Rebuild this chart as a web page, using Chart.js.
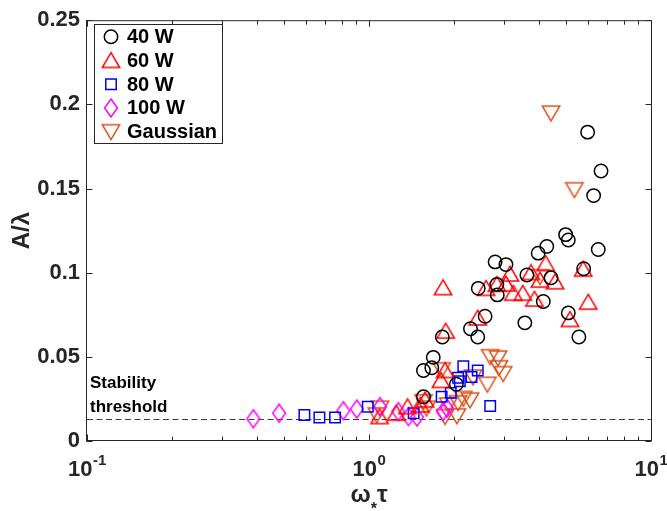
<!DOCTYPE html>
<html>
<head>
<meta charset="utf-8">
<script src="https://cdn.jsdelivr.net/npm/chart.js@4.4.0/dist/chart.umd.min.js"></script>
<style>
  html, body { margin: 0; padding: 0; background: #fff; }
</style>
</head>
<body>
<canvas id="waveChart" width="667" height="511"></canvas>
<script>
// series (x = omega_* tau, y = A / lambda)
const w40X = [5.96, 6.65, 6.26, 6.50, 5.77, 4.98, 5.09, 4.27, 3.98, 3.06, 2.80, 3.63, 4.42, 2.44, 2.84, 4.15, 5.09, 3.57, 5.55, 2.85, 2.58, 2.29, 2.43, 1.82, 1.69, 1.56, 1.67, 2.04, 1.56];
const w40Y = [0.1835, 0.1604, 0.1458, 0.1138, 0.1023, 0.1226, 0.1194, 0.1156, 0.1116, 0.1048, 0.1064, 0.0986, 0.0970, 0.0907, 0.0930, 0.0829, 0.0761, 0.0702, 0.0618, 0.0868, 0.0741, 0.0667, 0.0618, 0.0618, 0.0497, 0.0419, 0.0435, 0.0337, 0.0263];

const w60X = [1.83, 3.16, 2.60, 2.84, 3.06, 3.25, 3.51, 2.43, 1.87, 4.23, 3.75, 4.04, 4.57, 5.75, 3.86, 5.99, 5.16, 1.86, 1.80, 1.58, 1.52, 1.37, 1.25, 1.09];
const w60Y = [0.0911, 0.0992, 0.0907, 0.0931, 0.0933, 0.0878, 0.0878, 0.0731, 0.0653, 0.1054, 0.1001, 0.0956, 0.0946, 0.1021, 0.0843, 0.0825, 0.0722, 0.0419, 0.0360, 0.0244, 0.0214, 0.0204, 0.0165, 0.0145];

const w80X = [2.16, 2.43, 2.07, 2.31, 1.95, 1.81, 2.69, 1.44, 0.99, 0.59, 0.667, 0.758, 2.10];
const w80Y = [0.0444, 0.0419, 0.0376, 0.0380, 0.0286, 0.0263, 0.0208, 0.0165, 0.0204, 0.0155, 0.0139, 0.0139, 0.0355];

const w100X = [0.389, 0.48, 0.811, 0.905, 1.094, 1.27, 1.38, 1.48, 1.89, 1.83];
const w100Y = [0.0132, 0.0165, 0.0180, 0.0190, 0.0204, 0.0175, 0.0145, 0.0142, 0.0195, 0.0175];

const gaussX = [4.42, 5.35, 4.04, 2.69, 2.87, 2.89, 2.99, 2.63, 2.34, 2.16, 2.28, 2.07, 1.91, 1.86, 2.05, 1.81, 1.56, 1.60, 1.094, 1.065];
const gaussY = [0.1948, 0.1493, 0.0976, 0.0501, 0.0493, 0.0435, 0.0400, 0.0337, 0.0380, 0.0253, 0.0243, 0.0227, 0.0214, 0.0145, 0.0149, 0.0423, 0.0233, 0.0195, 0.0195, 0.0155];

const seriesLabels = ["40 W", "60 W", "80 W", "100 W", "Gaussian"];
const stabilityThreshold = 0.0132;

const yTickValues = [0, 0.05, 0.1, 0.15, 0.2, 0.25];
const yTickLabels = ["0", "0.05", "0.1", "0.15", "0.2", "0.25"];
const xDecades = [0.1, 1, 10];
const xDecadeExps = ["-1", "0", "1"];

const seriesColors = ["#000000", "#ff0000", "#0000ff", "#ff00ff", "#d95319"];
const FONT = '"Liberation Sans", Arial, Helvetica, sans-serif';
const AXIS = "#262626";
const MARK_W = 1.5;

function makeMarker(kind, color) {
  const c = document.createElement("canvas");
  c.width = 22;
  c.height = 22;
  const g = c.getContext("2d");
  g.strokeStyle = color;
  g.lineWidth = MARK_W;
  g.lineJoin = "miter";
  g.beginPath();
  if (kind === "up") {
    g.moveTo(11, 3.2); g.lineTo(19.7, 18); g.lineTo(2.3, 18);
  } else if (kind === "down") {
    g.moveTo(11, 18.8); g.lineTo(2.3, 4); g.lineTo(19.7, 4);
  } else {
    g.moveTo(11, 2); g.lineTo(17.4, 11); g.lineTo(11, 20); g.lineTo(4.6, 11);
  }
  g.closePath();
  g.stroke();
  return c;
}

const markerStyles = [
  "circle",
  makeMarker("up", seriesColors[1]),
  "rect",
  makeMarker("diamond", seriesColors[3]),
  makeMarker("down", seriesColors[4]),
];
const markerRadius = [6.7, 9, 7.4, 9, 9];

function toPoints(xs, ys) {
  return xs.map((x, i) => ({ x: x, y: ys[i] }));
}

const seriesData = [
  toPoints(w40X, w40Y),
  toPoints(w60X, w60Y),
  toPoints(w80X, w80Y),
  toPoints(w100X, w100Y),
  toPoints(gaussX, gaussY),
];

function drawLegendMarker(ctx, i, x, y) {
  const st = markerStyles[i];
  if (typeof st !== "string") {
    ctx.drawImage(st, x - st.width / 2, y - st.height / 2);
    return;
  }
  ctx.save();
  ctx.strokeStyle = seriesColors[i];
  ctx.lineWidth = MARK_W;
  ctx.beginPath();
  if (st === "circle") {
    ctx.arc(x, y, markerRadius[i], 0, Math.PI * 2);
  } else {
    const s = markerRadius[i] * Math.SQRT1_2;
    ctx.rect(x - s, y - s, 2 * s, 2 * s);
  }
  ctx.stroke();
  ctx.restore();
}

const decorPlugin = {
  id: "decor",
  beforeDatasetsDraw(chart) {
    const ctx = chart.ctx;
    const a = chart.chartArea;
    const py = Math.round(chart.scales.y.getPixelForValue(stabilityThreshold)) + 0.5;
    ctx.save();
    ctx.strokeStyle = "#3a3a3a";
    ctx.lineWidth = 1;
    ctx.setLineDash([6, 3.5]);
    ctx.beginPath();
    ctx.moveTo(a.left, py);
    ctx.lineTo(a.right, py);
    ctx.stroke();
    ctx.restore();
  },
  afterDraw(chart) {
    const ctx = chart.ctx;
    const a = chart.chartArea;
    const xs = chart.scales.x;
    const ys = chart.scales.y;
    const L = a.left - 0.5, R = a.right + 0.5, T = a.top + 0.5, B = a.bottom - 0.5;

    ctx.save();
    // axes box
    ctx.strokeStyle = AXIS;
    ctx.lineWidth = 1;
    ctx.strokeRect(L, T, R - L, B - T);

    // ticks
    ctx.beginPath();
    yTickValues.forEach((v) => {
      const p = Math.round(ys.getPixelForValue(v)) + 0.5;
      ctx.moveTo(L, p); ctx.lineTo(L + 6, p);
      ctx.moveTo(R, p); ctx.lineTo(R - 6, p);
    });
    xDecades.forEach((d, di) => {
      const p = Math.round(xs.getPixelForValue(d)) + 0.5;
      ctx.moveTo(p, B); ctx.lineTo(p, B - 6);
      ctx.moveTo(p, T); ctx.lineTo(p, T + 6);
      if (di < xDecades.length - 1) {
        for (let k = 2; k <= 9; k++) {
          const q = Math.round(xs.getPixelForValue(k * d)) + 0.5;
          ctx.moveTo(q, B); ctx.lineTo(q, B - 4);
          ctx.moveTo(q, T); ctx.lineTo(q, T + 4);
        }
      }
    });
    ctx.stroke();

    // x tick labels 10^n
    ctx.fillStyle = AXIS;
    ctx.textBaseline = "alphabetic";
    ctx.textAlign = "left";
    xDecades.forEach((d, i) => {
      const p = xs.getPixelForValue(d);
      ctx.font = "bold 22px " + FONT;
      const wBase = ctx.measureText("10").width;
      ctx.font = "bold 15px " + FONT;
      const wExp = ctx.measureText(xDecadeExps[i]).width;
      const x0 = p - (wBase + wExp) / 2;
      ctx.font = "bold 22px " + FONT;
      ctx.fillText("10", x0, 476);
      ctx.font = "bold 15px " + FONT;
      ctx.fillText(xDecadeExps[i], x0 + wBase + 0.5, 465);
    });

    // x title: omega_* tau
    ctx.font = "bold 24px " + FONT;
    const wOm = ctx.measureText("ω").width;
    const wTau = ctx.measureText("τ").width;
    ctx.font = "bold 16px " + FONT;
    const wAst = ctx.measureText("*").width;
    const cx = (a.left + a.right) / 2;
    const tx = cx - (wOm + wAst + wTau) / 2;
    ctx.font = "bold 24px " + FONT;
    ctx.fillText("ω", tx, 502);
    ctx.font = "bold 16px " + FONT;
    ctx.fillText("*", tx + wOm, 514);
    ctx.font = "bold 24px " + FONT;
    ctx.fillText("τ", tx + wOm + wAst, 502);

    // y title
    ctx.save();
    ctx.translate(29, (a.top + a.bottom) / 2);
    ctx.rotate(-Math.PI / 2);
    ctx.textAlign = "center";
    ctx.font = "bold 24px " + FONT;
    ctx.fillText("A/λ", 0, 0);
    ctx.restore();

    // stability annotation
    ctx.fillStyle = "#000";
    ctx.font = "bold 17px " + FONT;
    ctx.textAlign = "left";
    ctx.fillText("Stability", 90, 388);
    ctx.fillText("threshold", 90, 412);

    // legend
    const lx = 94.5, ly = 24.5, lw = 128, lh = 119;
    ctx.fillStyle = "#fff";
    ctx.fillRect(lx, ly, lw, lh);
    ctx.strokeStyle = AXIS;
    ctx.lineWidth = 1;
    ctx.strokeRect(lx, ly, lw, lh);
    ctx.font = "bold 20px " + FONT;
    ctx.textBaseline = "middle";
    seriesLabels.forEach((lab, i) => {
      const ry = 36.7 + i * 23.75;
      drawLegendMarker(ctx, i, 111, ry);
      ctx.fillStyle = "#000";
      ctx.fillText(lab, 127, ry + 1);
    });
    ctx.restore();
  },
};

const ctx = document.getElementById("waveChart").getContext("2d");
const waveChart = new Chart(ctx, {
  type: "scatter",
  data: {
    datasets: seriesLabels.map((lab, i) => ({
      label: lab,
      data: seriesData[i],
      pointStyle: markerStyles[i],
      pointRadius: markerRadius[i],
      borderColor: seriesColors[i],
      backgroundColor: "rgba(0,0,0,0)",
      pointBorderWidth: MARK_W,
      clip: 10,
    })),
  },
  options: {
    responsive: false,
    animation: false,
    devicePixelRatio: 1,
    layout: { padding: { top: 15, right: 16, left: 0, bottom: 0 } },
    plugins: {
      legend: { display: false },
      tooltip: { enabled: false },
    },
    scales: {
      x: {
        type: "logarithmic",
        min: 0.1,
        max: 10,
        grid: { display: false, drawTicks: false },
        border: { display: false },
        ticks: { display: false },
        afterFit: (scale) => { scale.height = 70; },
      },
      y: {
        type: "linear",
        min: 0,
        max: 0.25,
        grid: { display: false, drawTicks: false },
        border: { display: false },
        afterBuildTicks: (scale) => {
          scale.ticks = yTickValues.map((v) => ({ value: v }));
        },
        afterFit: (scale) => { scale.width = 87; },
        ticks: {
          autoSkip: false,
          padding: 7,
          color: AXIS,
          font: { family: FONT, size: 22, weight: "bold" },
          callback: (value, index) => yTickLabels[index],
        },
      },
    },
  },
  plugins: [decorPlugin],
});
</script>
</body>
</html>
